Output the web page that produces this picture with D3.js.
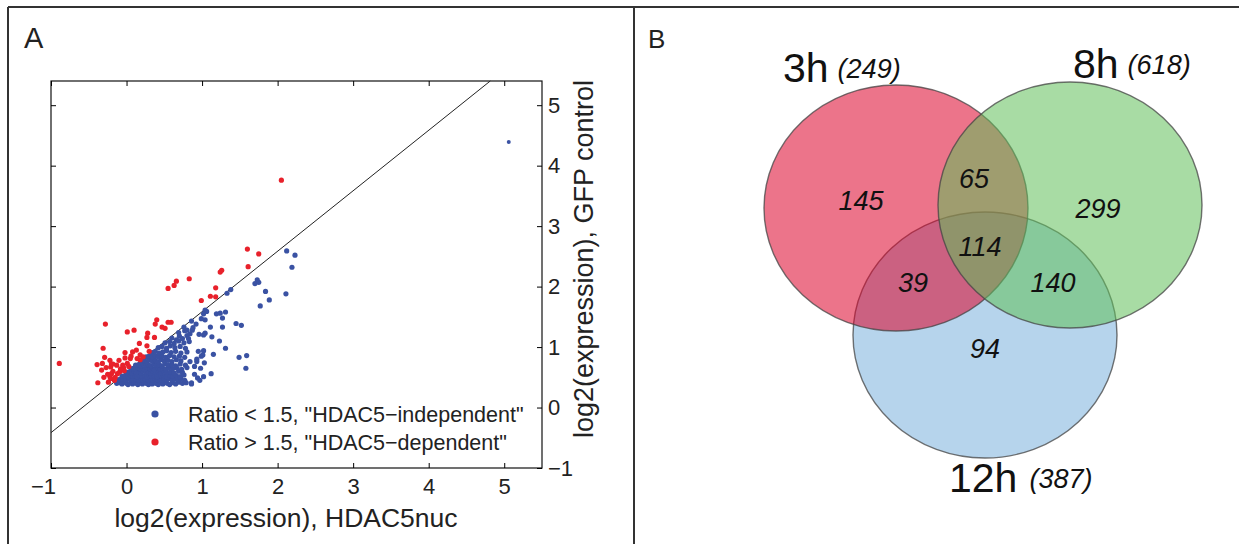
<!DOCTYPE html>
<html>
<head>
<meta charset="utf-8">
<script src="https://cdn.jsdelivr.net/npm/d3@7"></script>
<style>
  body { margin: 0; background: #fff; }
  svg { display: block; font-family: "Liberation Sans", Arial, sans-serif; }
</style>
</head>
<body>
<svg id="fig" width="1239" height="544"></svg>
<script>
// ---- panel A data: log2 expression, x = HDAC5nuc, y = GFP control ----
const xTicks = [-1, 0, 1, 2, 3, 4, 5];
const yTicks = [-1, 0, 1, 2, 3, 4, 5];
const ratioCut = Math.log2(1.5);
const legendLabels = ['Ratio < 1.5, "HDAC5\u2212independent"', 'Ratio > 1.5, "HDAC5\u2212dependent"'];
const xLabel = 'log2(expression), HDAC5nuc';
const yLabel = 'log2(expression), GFP control';

const independentPts = [
  [-0.13,0.40],[-0.09,0.41],[-0.06,0.39],[-0.03,0.42],[0.00,0.40],[0.02,0.38],[0.05,0.41],[0.08,0.39],
  [0.10,0.42],[0.13,0.40],[0.15,0.38],[0.18,0.41],[0.21,0.39],[0.23,0.42],[0.26,0.40],[0.29,0.38],
  [0.31,0.41],[0.34,0.39],[0.37,0.42],[0.39,0.40],[0.42,0.38],[0.45,0.41],[0.48,0.39],[0.51,0.42],
  [0.54,0.40],[0.57,0.38],[0.61,0.41],[0.65,0.39],[0.69,0.42],[0.74,0.40],[0.79,0.41],[0.86,0.39],
  [-0.10,0.46],[-0.05,0.47],[-0.01,0.45],[0.03,0.48],[0.06,0.46],[0.09,0.45],[0.12,0.47],[0.16,0.46],
  [0.19,0.48],[0.22,0.45],[0.25,0.47],[0.28,0.46],[0.32,0.48],[0.35,0.45],[0.38,0.47],[0.41,0.46],
  [0.44,0.48],[0.47,0.45],[0.50,0.47],[0.53,0.46],[0.56,0.48],[0.60,0.45],[0.64,0.47],[0.68,0.46],
  [0.72,0.48],[0.77,0.45],
  [-0.06,0.52],[-0.02,0.53],[0.02,0.51],[0.05,0.54],[0.08,0.52],[0.11,0.53],[0.14,0.51],[0.17,0.54],
  [0.20,0.52],[0.24,0.53],[0.27,0.51],[0.30,0.54],[0.33,0.52],[0.36,0.53],[0.40,0.51],[0.43,0.54],
  [0.46,0.52],[0.49,0.53],[0.53,0.51],[0.57,0.54],[0.61,0.52],[0.66,0.53],[0.71,0.51],[0.76,0.54],
  [0.01,0.58],[0.04,0.59],[0.07,0.57],[0.10,0.60],[0.13,0.58],[0.16,0.59],[0.19,0.57],[0.22,0.60],
  [0.26,0.58],[0.29,0.59],[0.32,0.57],[0.35,0.60],[0.39,0.58],[0.42,0.59],[0.45,0.57],[0.49,0.60],
  [0.53,0.58],[0.58,0.59],[0.63,0.57],[0.69,0.60],[0.74,0.58],
  [0.06,0.64],[0.09,0.65],[0.12,0.63],[0.15,0.66],[0.18,0.64],[0.21,0.65],[0.24,0.63],[0.27,0.66],
  [0.31,0.64],[0.34,0.65],[0.37,0.63],[0.41,0.66],[0.44,0.64],[0.48,0.65],[0.52,0.63],[0.56,0.66],
  [0.61,0.64],[0.67,0.65],[0.73,0.63],[0.80,0.66],
  [0.12,0.70],[0.16,0.71],[0.19,0.69],[0.22,0.72],[0.26,0.70],[0.29,0.71],[0.32,0.69],[0.36,0.72],
  [0.39,0.70],[0.43,0.71],[0.47,0.69],[0.51,0.72],[0.55,0.70],[0.60,0.71],[0.65,0.69],[0.71,0.72],
  [0.78,0.70],
  [0.19,0.77],[0.23,0.78],[0.27,0.76],[0.30,0.79],[0.34,0.77],[0.38,0.78],[0.42,0.76],[0.46,0.79],
  [0.50,0.77],[0.55,0.78],[0.60,0.76],[0.66,0.79],[0.72,0.77],[0.84,0.76],
  [0.26,0.84],[0.30,0.85],[0.34,0.83],[0.38,0.86],[0.42,0.84],[0.47,0.85],[0.52,0.83],[0.57,0.86],
  [0.63,0.84],[0.70,0.85],[0.77,0.83],
  [0.34,0.91],[0.38,0.93],[0.43,0.90],[0.48,0.92],[0.53,0.94],[0.59,0.91],[0.65,0.93],[0.72,0.90],[0.80,0.92],
  [0.42,0.99],[0.47,1.01],[0.53,0.98],[0.58,1.02],[0.64,0.99],[0.71,1.01],[0.78,0.98],
  [0.51,1.07],[0.57,1.09],[0.63,1.06],[0.69,1.10],[0.76,1.07],[0.83,1.09],
  [0.60,1.15],[0.66,1.12],[0.70,1.18],[0.74,1.14],[0.82,1.14],[0.80,1.19],
  [0.69,1.24],[0.77,1.27],[0.80,1.28],[0.84,1.22],[0.96,1.21],
  [0.76,1.33],[0.86,1.43],[0.88,1.32],[0.87,1.28],[0.92,1.38],
  [0.95,0.93],[0.99,0.85],[0.93,0.76],[0.90,0.68],[0.90,0.55],[0.94,0.49],[0.86,0.41],[0.97,0.45],
  [1.02,0.94],[1.01,0.87],[0.93,0.80],[1.03,0.74],[0.98,0.65],[1.12,0.56],[1.02,0.51],
  [1.15,0.88],[1.23,1.10],[1.31,0.98],[1.49,0.83],[1.59,0.86],[1.58,0.65],
  [1.11,1.33],[1.04,1.23],[1.13,1.17],[1.02,1.20],[1.27,1.33],[1.45,1.39],[1.52,1.36],
  [1.19,1.55],[1.24,1.56],[1.31,1.58],[1.27,1.48],
  [1.04,1.61],[1.06,1.59],[1.02,1.55],[0.99,1.47],[1.04,1.45],
  [1.38,1.95],[1.33,1.89],[1.77,1.68],[1.89,1.78],[1.84,1.92],[2.11,1.88],
  [1.73,2.11],[1.70,2.05],[1.75,2.07],[2.12,2.59],[2.23,2.52],[2.19,2.32],
  [5.06,4.39]
];

const dependentPts = [
  [-0.89,0.73],[-0.28,1.38],[1.60,2.62],[1.75,2.54],[1.61,2.33],[1.24,2.24],[1.26,2.27],
  [0.55,1.97],[0.63,2.02],[0.66,2.09],[0.83,2.13],[1.18,1.98],[1.11,1.84],[1.18,1.83],[0.99,1.77],
  [2.05,3.76],
  [0.40,1.45],[0.38,1.38],[0.55,1.41],[0.59,1.41],[0.47,1.33],[0.51,1.31],
  [0.01,1.25],[0.10,1.28],[0.28,1.23],[0.27,1.16],[0.37,1.16],[0.17,1.06],[0.27,1.02],
  [-0.31,0.98],[-0.02,0.91],[0.08,0.92],[0.13,0.95],[0.30,0.93],
  [-0.29,0.83],[-0.22,0.78],[-0.18,0.72],[-0.13,0.70],[-0.39,0.71],[-0.32,0.73],[-0.27,0.66],
  [-0.21,0.67],[-0.04,0.66],[0.01,0.73],[0.05,0.81],[0.14,0.81],[0.18,0.87],[0.22,0.84],
  [-0.38,0.41],[-0.24,0.42],[-0.22,0.51],[-0.20,0.56],[-0.21,0.48],[-0.15,0.50],[-0.09,0.59],
  [-0.03,0.61],[0.18,0.79],
  [-0.33,0.62],[-0.25,0.55],[-0.18,0.60],[-0.12,0.56],[-0.08,0.64],[-0.05,0.70],[-0.30,0.50],
  [-0.16,0.45],[-0.20,0.72],[-0.10,0.78],[0.03,0.68],[0.06,0.85],[-0.02,0.82]
];

// ---- panel B data: Venn diagram ----
const setNames = ['3h', '8h', '12h'];
const setTotals = [249, 618, 387];
const regionCounts = [145, 65, 299, 114, 39, 140, 94]; // 3h only, 3h&8h, 8h only, all, 3h&12h, 8h&12h, 12h only

const svg = d3.select('#fig');
const font = '"Liberation Sans", Arial, sans-serif';

// frame
const frame = svg.append('g').attr('stroke', '#333').attr('stroke-width', 2);
frame.append('line').attr('x1', 8).attr('x2', 1239).attr('y1', 7).attr('y2', 7);
frame.append('line').attr('x1', 8).attr('x2', 8).attr('y1', 7).attr('y2', 544);
frame.append('line').attr('x1', 634).attr('x2', 634).attr('y1', 7).attr('y2', 544);

svg.append('text').attr('x', 24).attr('y', 48).attr('font-size', 29).attr('fill', '#222').text('A');
svg.append('text').attr('x', 648).attr('y', 48).attr('font-size', 26).attr('fill', '#222').text('B');

// ---- panel A ----
const x = d3.scaleLinear().domain([-1, 5.5]).range([51, 542]);
const y = d3.scaleLinear().domain([-1, 5.4]).range([468, 81]);
const fmt = d => d < 0 ? '\u2212' + Math.abs(d) : String(d);

const plot = svg.append('g');

plot.append('rect')
  .attr('x', x(-1)).attr('y', y(5.4))
  .attr('width', x(5.5) - x(-1)).attr('height', y(-1) - y(5.4))
  .attr('fill', 'none').attr('stroke', '#111').attr('stroke-width', 1.2);

const xAxis = plot.append('g')
  .attr('transform', 'translate(0,' + y(-1) + ')')
  .call(d3.axisBottom(x).tickValues(xTicks).tickSizeInner(-5).tickSizeOuter(0).tickPadding(10).tickFormat(fmt));
xAxis.select('.domain').remove();
xAxis.selectAll('text').attr('font-size', 22).attr('font-family', font).attr('fill', '#222')
  .attr('dx', d => d < 0 ? -8 : 0);

const topAxis = plot.append('g')
  .attr('transform', 'translate(0,' + y(5.4) + ')')
  .call(d3.axisTop(x).tickValues(xTicks).tickSizeInner(-5).tickSizeOuter(0).tickFormat(''));
topAxis.select('.domain').remove();

const leftAxis = plot.append('g')
  .attr('transform', 'translate(' + x(-1) + ',0)')
  .call(d3.axisLeft(y).tickValues(yTicks).tickSizeInner(-5).tickSizeOuter(0).tickFormat(''));
leftAxis.select('.domain').remove();

const rightAxis = plot.append('g')
  .attr('transform', 'translate(' + x(5.5) + ',0)')
  .call(d3.axisRight(y).tickValues(yTicks).tickSizeInner(-5).tickSizeOuter(0).tickPadding(6).tickFormat(fmt));
rightAxis.select('.domain').remove();
rightAxis.selectAll('text').attr('font-size', 22).attr('font-family', font).attr('fill', '#222');

// ratio = 1.5 line
plot.append('line')
  .attr('x1', x(-1)).attr('y1', y(-1 + ratioCut))
  .attr('x2', x(5.4 - ratioCut)).attr('y2', y(5.4))
  .attr('stroke', '#222').attr('stroke-width', 1);

plot.append('g').selectAll('circle')
  .data(independentPts)
  .join('circle')
  .attr('cx', d => x(d[0])).attr('cy', d => y(d[1]))
  .attr('r', (d, i) => i === independentPts.length - 1 ? 2 : 2.6)
  .attr('fill', '#3a52a3');

plot.append('g').selectAll('circle')
  .data(dependentPts)
  .join('circle')
  .attr('cx', d => x(d[0])).attr('cy', d => y(d[1]))
  .attr('r', 2.6)
  .attr('fill', '#e8212b');

// legend
const legendColors = ['#3a52a3', '#e8212b'];
const legend = plot.append('g').selectAll('g')
  .data(legendLabels)
  .join('g')
  .attr('transform', (d, i) => 'translate(155,' + (414 + i * 28) + ')');
legend.append('circle').attr('r', 3.6).attr('fill', (d, i) => legendColors[i]);
legend.append('text')
  .attr('x', 33).attr('y', 7.5)
  .attr('font-size', 21.5).attr('fill', '#222')
  .text(d => d);

// axis titles
plot.append('text')
  .attr('x', 286).attr('y', 527)
  .attr('text-anchor', 'middle').attr('font-size', 26.5).attr('fill', '#222')
  .text(xLabel);

plot.append('text')
  .attr('transform', 'translate(593,259) rotate(-90)')
  .attr('text-anchor', 'middle').attr('font-size', 27).attr('fill', '#222')
  .text(yLabel);

// ---- panel B ----
const venn = svg.append('g');
const ellipses = [
  {i: 2, cx: 985, cy: 335, fill: '#7ab1dc'},
  {i: 0, cx: 896, cy: 208, fill: '#dc022a'},
  {i: 1, cx: 1070, cy: 205, fill: '#61bf5a'}
];
venn.selectAll('ellipse')
  .data(ellipses)
  .join('ellipse')
  .attr('cx', d => d.cx).attr('cy', d => d.cy)
  .attr('rx', 132).attr('ry', 123)
  .attr('fill', d => d.fill).attr('fill-opacity', 0.55)
  .attr('stroke', '#444').attr('stroke-opacity', 0.75).attr('stroke-width', 1.4);

const regionPos = [[861, 210], [974, 188], [1098, 218], [980, 256], [913, 292], [1053, 292], [985, 358]];
venn.selectAll('text.count')
  .data(regionCounts)
  .join('text')
  .attr('class', 'count')
  .attr('x', (d, i) => regionPos[i][0]).attr('y', (d, i) => regionPos[i][1])
  .attr('text-anchor', 'middle').attr('font-size', 27).attr('font-style', 'italic').attr('fill', '#111')
  .text(d => d);

const titlePos = [[783, 82], [1073, 78], [949, 492]];
const titles = venn.selectAll('text.set')
  .data(setNames)
  .join('text')
  .attr('class', 'set')
  .attr('x', (d, i) => titlePos[i][0]).attr('y', (d, i) => titlePos[i][1])
  .attr('font-size', 41).attr('fill', '#111');
titles.append('tspan').text(d => d);
titles.append('tspan')
  .attr('dx', (d, i) => i === 2 ? 12 : 9).attr('dy', -4)
  .attr('font-size', 27).attr('font-style', 'italic')
  .text((d, i) => '(' + setTotals[i] + ')');
</script>
</body>
</html>
